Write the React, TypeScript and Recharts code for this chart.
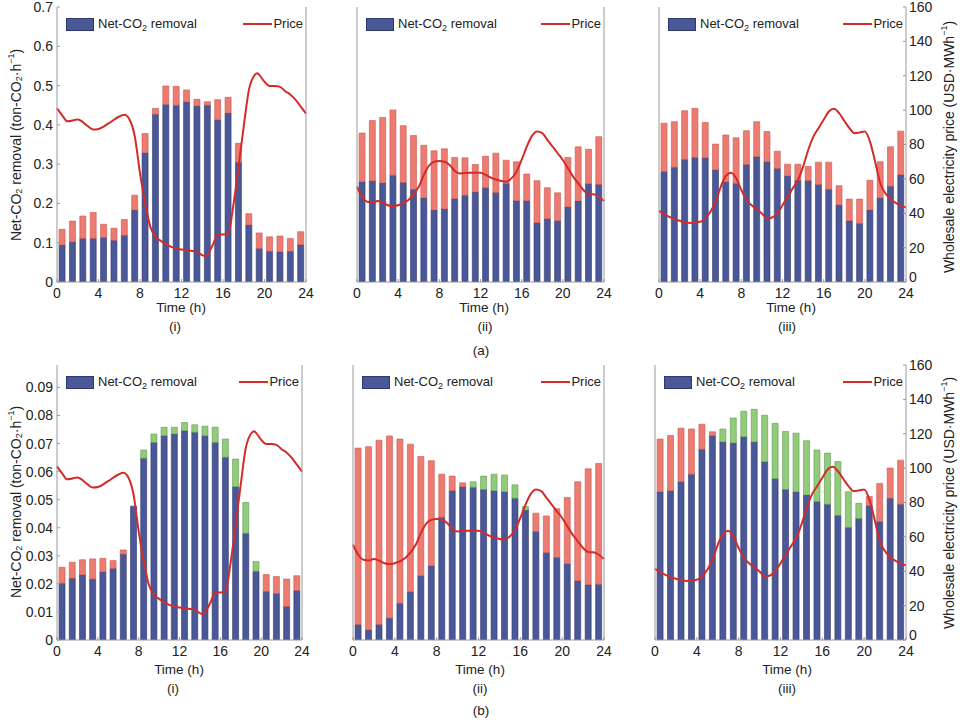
import React from 'react';
import { ComposedChart, Bar, Line, XAxis, YAxis, Legend } from 'recharts';

// bar centres (h) and axis ticks
const hours = [0.5, 1.5, 2.5, 3.5, 4.5, 5.5, 6.5, 7.5, 8.5, 9.5, 10.5, 11.5, 12.5, 13.5, 14.5, 15.5, 16.5, 17.5, 18.5, 19.5, 20.5, 21.5, 22.5, 23.5];
const timeTicks = [0, 4, 8, 12, 16, 20, 24];
const priceTicks = [0, 20, 40, 60, 80, 100, 120, 140, 160];
const ticksA = [0, 0.1, 0.2, 0.3, 0.4, 0.5, 0.6, 0.7];
const ticksB = [0, 0.01, 0.02, 0.03, 0.04, 0.05, 0.06, 0.07, 0.08, 0.09];

// (a) net removal (blue) + upper segment (red)
const blueA1 = [0.094, 0.102, 0.111, 0.111, 0.113, 0.106, 0.119, 0.183, 0.329, 0.427, 0.452, 0.450, 0.458, 0.448, 0.450, 0.413, 0.430, 0.305, 0.145, 0.085, 0.078, 0.077, 0.078, 0.095];
const redA1 = [0.040, 0.053, 0.057, 0.066, 0.034, 0.031, 0.040, 0.038, 0.049, 0.015, 0.047, 0.048, 0.031, 0.017, 0.009, 0.051, 0.040, 0.048, 0.029, 0.040, 0.037, 0.040, 0.033, 0.033];
const blueA2 = [0.255, 0.257, 0.252, 0.272, 0.253, 0.236, 0.214, 0.183, 0.186, 0.212, 0.221, 0.229, 0.240, 0.228, 0.251, 0.207, 0.207, 0.151, 0.161, 0.156, 0.191, 0.206, 0.250, 0.248];
const redA2 = [0.124, 0.154, 0.167, 0.166, 0.145, 0.137, 0.134, 0.151, 0.153, 0.105, 0.095, 0.070, 0.080, 0.100, 0.059, 0.099, 0.068, 0.107, 0.079, 0.071, 0.126, 0.138, 0.088, 0.122];
const blueA3 = [0.281, 0.292, 0.312, 0.317, 0.316, 0.285, 0.255, 0.251, 0.299, 0.319, 0.306, 0.289, 0.270, 0.259, 0.258, 0.248, 0.236, 0.196, 0.156, 0.149, 0.183, 0.214, 0.244, 0.273];
const redA3 = [0.123, 0.116, 0.124, 0.125, 0.090, 0.066, 0.119, 0.116, 0.086, 0.089, 0.077, 0.044, 0.030, 0.041, 0.036, 0.057, 0.069, 0.049, 0.055, 0.062, 0.076, 0.092, 0.100, 0.111];

// (b) net removal (blue) + red / green upper segments
const blueB1 = [0.0202, 0.0220, 0.0232, 0.0217, 0.0243, 0.0255, 0.0306, 0.0477, 0.0648, 0.0704, 0.0728, 0.0734, 0.0746, 0.0740, 0.0728, 0.0704, 0.0651, 0.0546, 0.0380, 0.0245, 0.0173, 0.0166, 0.0119, 0.0176];
const redB1 = [0.0057, 0.0057, 0.0054, 0.0072, 0.0048, 0.0028, 0.0015, 0, 0, 0, 0, 0, 0, 0, 0, 0, 0, 0, 0, 0, 0.0060, 0.0060, 0.0098, 0.0053];
const greenB1 = [0, 0, 0, 0, 0, 0, 0, 0, 0.0029, 0.0030, 0.0030, 0.0024, 0.0029, 0.0027, 0.0034, 0.0054, 0.0065, 0.0099, 0.0110, 0.0035, 0, 0, 0, 0];
const blueB2 = [0.0055, 0.0036, 0.0055, 0.0078, 0.0131, 0.0172, 0.0229, 0.0264, 0.0437, 0.0532, 0.0546, 0.0544, 0.0536, 0.0532, 0.0528, 0.0505, 0.0463, 0.0387, 0.0311, 0.0294, 0.0272, 0.0211, 0.0197, 0.0199];
const redB2 = [0.0629, 0.0653, 0.0657, 0.0649, 0.0585, 0.0526, 0.0425, 0.0375, 0.0154, 0.0052, 0.0014, 0, 0, 0, 0, 0, 0, 0.0065, 0.0131, 0.0174, 0.0236, 0.0353, 0.0413, 0.0430];
const greenB2 = [0, 0, 0, 0, 0, 0, 0, 0, 0, 0, 0, 0.0020, 0.0048, 0.0059, 0.0060, 0.0048, 0.0013, 0, 0, 0, 0, 0, 0, 0];
const blueB3 = [0.0528, 0.0532, 0.0564, 0.0591, 0.0680, 0.0728, 0.0706, 0.0702, 0.0724, 0.0706, 0.0635, 0.0575, 0.0536, 0.0528, 0.0517, 0.0494, 0.0484, 0.0444, 0.0401, 0.0433, 0.0479, 0.0422, 0.0505, 0.0484];
const redB3 = [0.0188, 0.0197, 0.0191, 0.0161, 0.0089, 0.0014, 0, 0, 0, 0, 0, 0, 0, 0, 0, 0, 0, 0, 0, 0, 0.0032, 0.0136, 0.0108, 0.0157];
const greenB3 = [0, 0, 0, 0, 0, 0, 0.0046, 0.0089, 0.0091, 0.0116, 0.0166, 0.0197, 0.0207, 0.0209, 0.0193, 0.0183, 0.0182, 0.0192, 0.0127, 0.0054, 0, 0, 0, 0];

// wholesale price curves (USD/MWh), same for (a) and (b)
const priceT1 = [0, 0.5, 1, 2, 3, 3.5, 4, 5, 6, 6.5, 7, 7.5, 8, 8.5, 9, 9.5, 10, 11, 12, 13, 13.5, 14, 14.3, 15, 15.5, 16, 16.5, 17, 17.5, 18, 18.5, 19, 19.3, 19.5, 20, 20.5, 21, 21.5, 22, 22.5, 23, 23.5, 24];
const price1 = [101, 97, 93.5, 94.5, 90.5, 88.7, 89, 92.4, 96.3, 97.3, 94.4, 84.6, 63.2, 45.7, 32.1, 26.3, 23.9, 20.4, 18.9, 18.1, 17.5, 15.6, 15, 21.4, 27.6, 27.6, 28.2, 44.7, 67.1, 90.5, 111.9, 120, 121.5, 120.5, 116.5, 114, 114, 113.5, 111, 109, 106, 102, 98];
const priceT2 = [0, 0.5, 1, 1.5, 2, 2.5, 3, 3.5, 4, 5, 6, 6.5, 7, 7.5, 8, 8.5, 9, 9.5, 10, 11, 12, 12.5, 13, 14, 14.5, 15, 15.5, 16, 16.5, 17, 17.5, 18, 18.5, 19, 19.5, 20, 20.5, 21, 21.5, 22, 22.5, 23, 23.5, 24];
const price2 = [55.4, 49.6, 46.7, 46.3, 47.1, 46.1, 44.7, 44.2, 44.7, 47.7, 55.4, 62.3, 67.7, 70, 70.4, 70, 68.1, 64.6, 63.2, 63.6, 63.6, 62.3, 60.7, 58.8, 58.4, 60.3, 64.2, 71, 78.8, 85, 87.5, 86.6, 82.7, 78.8, 74.9, 71, 66.1, 61.3, 57.4, 53.5, 51.2, 51, 49.6, 47.1];
const priceT3 = [0, 1, 2, 3, 4, 4.5, 5, 5.5, 6, 6.5, 7, 7.5, 8, 8.5, 9, 10, 10.5, 11, 11.5, 12, 12.5, 13, 13.5, 14, 14.5, 15, 15.5, 16, 16.5, 17, 17.5, 18, 18.5, 19, 19.5, 20, 20.5, 21, 21.5, 22, 22.5, 23, 23.5, 24];
const price3 = [41.4, 37.9, 35.6, 34.4, 35, 37, 40.9, 46.7, 55.4, 61.7, 63.6, 60.3, 53.5, 47.7, 44.7, 39.9, 37, 37.5, 39.9, 44.7, 49.6, 54.5, 59.3, 67.1, 76.8, 84.6, 89.5, 94.4, 99.2, 100.8, 98.2, 93.8, 89.5, 86.6, 87, 87.5, 81.7, 70, 57.4, 51.6, 48.1, 46.1, 44.6, 43.4];

const FONT = '"Liberation Sans", Arial, Helvetica, sans-serif';
const AXIS = '#9a9a9a';
const INK = '#222';
const BLUE = '#4b5898';
const BLUE_EDGE = '#2d3870';
const RED = '#ec7c72';
const RED_EDGE = '#c9564d';
const GREEN = '#93cb7d';
const GREEN_EDGE = '#5e9a4d';
const PRICE = '#d52b28';

type Box = { l: number; r: number; t: number; b: number };

// right-axis label; the 0 is nudged up so it clears the "24" below it
const RightTick = (props: any) => {
  const { x, y, payload } = props;
  return (
    <text x={x} y={payload.value === 0 ? y - 5 : y} dy="0.355em" textAnchor="start" fill={INK} fontSize={14} fontFamily={FONT}>
      {payload.value}
    </text>
  );
};

const PanelLegend = ({ width }: { width: number }) => (
  <div
    style={{
      width, height: 14, display: 'flex', justifyContent: 'space-between', alignItems: 'center',
      fontFamily: FONT, fontSize: 13, color: INK, lineHeight: '14px', paddingLeft: 9, paddingRight: 3, boxSizing: 'border-box',
    }}
  >
    <div style={{ display: 'flex', alignItems: 'center' }}>
      <span style={{ display: 'inline-block', width: 28, height: 13, background: BLUE, border: `1px solid ${BLUE_EDGE}`, boxSizing: 'border-box', marginRight: 4 }} />
      <span>
        Net-CO<span style={{ fontSize: 9, position: 'relative', top: 3 }}>2</span> removal
      </span>
    </div>
    <div style={{ display: 'flex', alignItems: 'center' }}>
      <span style={{ display: 'inline-block', width: 29, height: 2, background: PRICE, marginRight: 1 }} />
      <span>Price</span>
    </div>
  </div>
);

interface PanelProps {
  box: Box;
  blue: number[];
  red: number[];
  green?: number[];
  priceT: number[];
  price: number[];
  yMax: number;
  yTicks: number[];
  leftLabels: boolean;
  rightLabels: boolean;
}

const Panel: React.FC<PanelProps> = ({ box, blue, red, green, priceT, price, yMax, yTicks, leftLabels, rightLabels }) => {
  const rows = hours.map((h, i) => ({ h, removal: blue[i], red: red[i], green: green ? green[i] : 0 }));
  const line = priceT.map((t, i) => ({ t, price: price[i] }));
  const tickStyle = { fill: INK, fontSize: 14, fontFamily: FONT };
  return (
    <div style={{ position: 'absolute', left: 0, top: 0 }}>
      <ComposedChart
        width={960}
        height={720}
        data={rows}
        barCategoryGap="20%"
        margin={{ left: box.l - 1, right: 960 - box.r - 1, top: box.t, bottom: 720 - box.b - 1 }}
      >
        <XAxis xAxisId="bars" dataKey="h" type="number" domain={[0, 24]} ticks={timeTicks} interval={0} height={1}
          tickSize={-3} tickMargin={9} stroke={AXIS} tick={tickStyle} />
        <XAxis xAxisId="line" dataKey="t" type="number" domain={[0, 24]} hide />
        <YAxis yAxisId="left" width={1} domain={[0, yMax]} ticks={yTicks} interval={0} allowDataOverflow
          tickSize={-3} tickMargin={7} stroke={AXIS} tick={leftLabels ? tickStyle : false} />
        <YAxis yAxisId="right" orientation="right" width={1} domain={[0, 160]} ticks={priceTicks} interval={0}
          tickSize={-3} tickMargin={6} stroke={AXIS} tick={rightLabels ? <RightTick /> : false} />
        <Legend
          layout="horizontal"
          verticalAlign="middle"
          align="center"
          wrapperStyle={{ left: box.l, top: box.t + 10, width: box.r - box.l }}
          content={() => <PanelLegend width={box.r - box.l} />}
        />
        <Bar xAxisId="bars" yAxisId="left" dataKey="removal" name="Net-CO2 removal" stackId="s"
          fill={BLUE} stroke={BLUE_EDGE} strokeWidth={0.6} isAnimationActive={false} />
        <Bar xAxisId="bars" yAxisId="left" dataKey="red" stackId="s"
          fill={RED} stroke={RED_EDGE} strokeWidth={0.6} isAnimationActive={false} />
        {green && (
          <Bar xAxisId="bars" yAxisId="left" dataKey="green" stackId="s"
            fill={GREEN} stroke={GREEN_EDGE} strokeWidth={0.6} isAnimationActive={false} />
        )}
        <Line xAxisId="line" yAxisId="right" data={line} dataKey="price" name="Price" type="monotone"
          stroke={PRICE} strokeWidth={2} dot={false} activeDot={false} isAnimationActive={false} />
      </ComposedChart>
    </div>
  );
};

const Sub = ({ children }: { children: React.ReactNode }) => (
  <tspan fontSize={9} dy={3}>{children}</tspan>
);

const RemovalTitle = ({ x, y }: { x: number; y: number }) => (
  <text x={x} y={y} transform={`rotate(-90 ${x} ${y})`} textAnchor="middle" dominantBaseline="central"
    fontSize={14} fill={INK} fontFamily={FONT}>
    Net-CO<Sub>2</Sub><tspan dy={-3}> removal (ton-CO</tspan><Sub>2</Sub><tspan dy={-3}>·h</tspan>
    <tspan fontSize={9} dy={-5}>−1</tspan><tspan dy={5}>)</tspan>
  </text>
);

const PriceTitle = ({ x, y }: { x: number; y: number }) => (
  <text x={x} y={y} transform={`rotate(-90 ${x} ${y})`} textAnchor="middle" dominantBaseline="central"
    fontSize={14} fill={INK} fontFamily={FONT}>
    Wholesale electricity price (USD·MWh<tspan fontSize={9} dy={-5}>−1</tspan><tspan dy={5}>)</tspan>
  </text>
);

const boxes: Box[] = [
  { l: 57, r: 306, t: 7, b: 282 },
  { l: 357, r: 604, t: 7, b: 282 },
  { l: 659, r: 906, t: 7, b: 282 },
  { l: 57, r: 302, t: 365, b: 640 },
  { l: 353, r: 604, t: 365, b: 640 },
  { l: 655, r: 906, t: 365, b: 640 },
];

const captions = [
  { x: 181, tx: 175, y: 307, label: '(i)' },
  { x: 484, tx: 485, y: 307, label: '(ii)' },
  { x: 791, tx: 787, y: 307, label: '(iii)' },
  { x: 179, tx: 173, y: 669, label: '(i)' },
  { x: 480, tx: 480, y: 669, label: '(ii)' },
  { x: 787, tx: 787, y: 669, label: '(iii)' },
];

export default function App() {
  return (
    <div style={{ position: 'absolute', left: 0, top: 0, width: 960, height: 720, background: '#fff', overflow: 'hidden' }}>
      <Panel box={boxes[0]} blue={blueA1} red={redA1} priceT={priceT1} price={price1} yMax={0.7} yTicks={ticksA} leftLabels rightLabels={false} />
      <Panel box={boxes[1]} blue={blueA2} red={redA2} priceT={priceT2} price={price2} yMax={0.7} yTicks={ticksA} leftLabels={false} rightLabels={false} />
      <Panel box={boxes[2]} blue={blueA3} red={redA3} priceT={priceT3} price={price3} yMax={0.7} yTicks={ticksA} leftLabels={false} rightLabels />
      <Panel box={boxes[3]} blue={blueB1} red={redB1} green={greenB1} priceT={priceT1} price={price1} yMax={0.098} yTicks={ticksB} leftLabels rightLabels={false} />
      <Panel box={boxes[4]} blue={blueB2} red={redB2} green={greenB2} priceT={priceT2} price={price2} yMax={0.098} yTicks={ticksB} leftLabels={false} rightLabels={false} />
      <Panel box={boxes[5]} blue={blueB3} red={redB3} green={greenB3} priceT={priceT3} price={price3} yMax={0.098} yTicks={ticksB} leftLabels={false} rightLabels />
      <svg width={960} height={720} style={{ position: 'absolute', left: 0, top: 0, pointerEvents: 'none' }}>
        <RemovalTitle x={16} y={145} />
        <RemovalTitle x={16} y={502} />
        <PriceTitle x={949} y={147} />
        <PriceTitle x={949} y={503} />
        {captions.map((c, i) => (
          <g key={i} fontFamily={FONT} fontSize={13.5} fill={INK} textAnchor="middle" dominantBaseline="central">
            <text x={c.x} y={c.y}>Time (h)</text>
            <text x={c.tx} y={c.y + 19}>{c.label}</text>
          </g>
        ))}
        <text x={481} y={350} fontFamily={FONT} fontSize={13.5} fill={INK} textAnchor="middle" dominantBaseline="central">(a)</text>
        <text x={481} y={710} fontFamily={FONT} fontSize={13.5} fill={INK} textAnchor="middle" dominantBaseline="central">(b)</text>
      </svg>
    </div>
  );
}
